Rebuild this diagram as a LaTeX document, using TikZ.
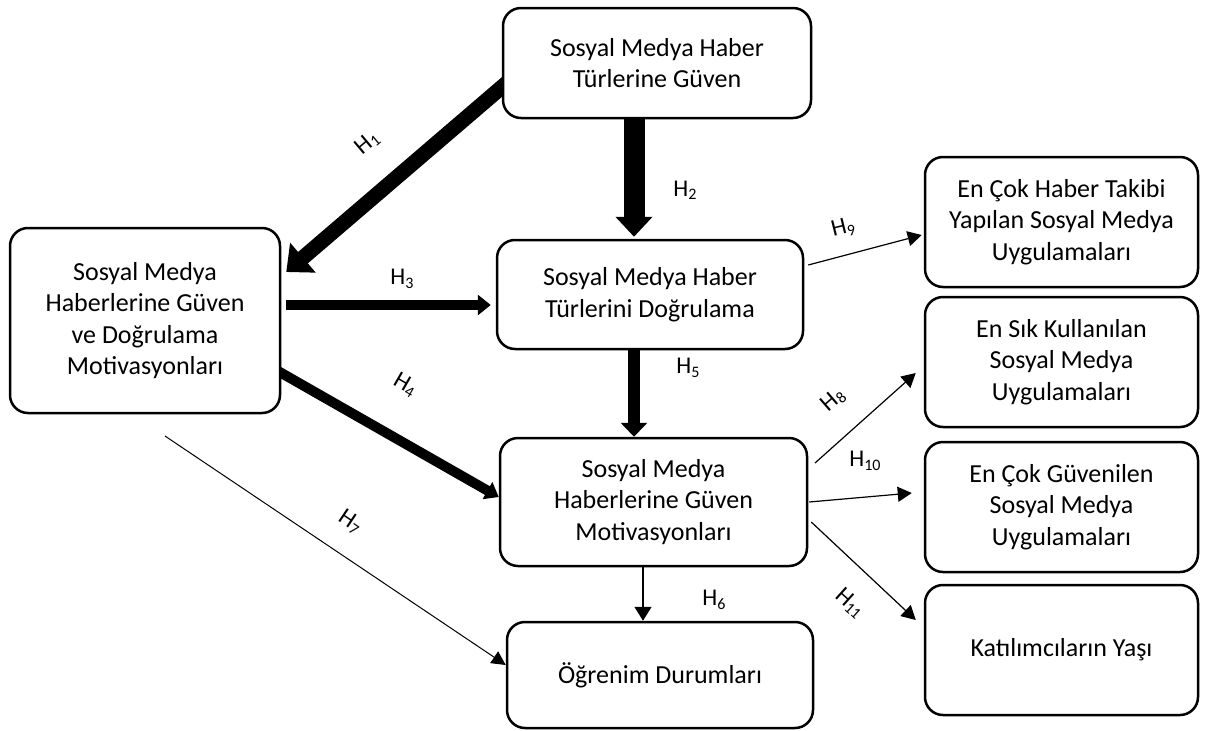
\documentclass[tikz,border=0pt]{standalone}
\usepackage{fontspec}
\setmainfont{Carlito}
\usetikzlibrary{arrows.meta,calc,backgrounds}
\newcommand\boxfont{\fontsize{26}{31.5}\selectfont}
\newcommand\lblfont{\fontsize{24}{28}\selectfont}
\newcommand\Hsub[1]{H\raisebox{-0.14em}{\fontsize{16}{16}\selectfont #1}}
\begin{document}
\begin{tikzpicture}[x=1pt,y=-1pt,
  box/.style={draw, line width=2.5pt, rounded corners=18pt, fill=white,
    align=center, inner sep=0pt, font=\boxfont, minimum width=#1},
  box/.default=306pt,
  lbl/.style={font=\lblfont, inner sep=0pt},
  thin/.style={line width=1.2pt, -{Triangle[length=14pt,width=15pt]}},
]
\useasboundingbox (0,0) rectangle (1205,731);

\node[box=308pt, minimum height=110pt] (A) at (657,63) {Sosyal Medya Haber\\Türlerine Güven};
\node[box=270pt, minimum height=185pt] (B) at (145,320.5) {Sosyal Medya\\Haberlerine Güven\\ve Doğrulama\\Motivasyonları};
\node[box=306pt, minimum height=109pt] (C) at (650,294.5) {Sosyal Medya Haber\\Türlerini Doğrulama};
\node[box=307pt, minimum height=128pt] (D) at (653.5,502) {Sosyal Medya\\Haberlerine Güven\\Motivasyonları};
\node[box=306pt, minimum height=106pt] (E) at (660,675) {Öğrenim Durumları};
\node[box=273pt, minimum height=130pt] (R1) at (1061.5,222) {En Çok Haber Takibi\\Yapılan Sosyal Medya\\Uygulamaları};
\node[box=273pt, minimum height=130pt] (R2) at (1061.5,362) {En Sık Kullanılan\\Sosyal Medya\\Uygulamaları};
\node[box=273pt, minimum height=130pt] (R3) at (1061.5,507) {En Çok Güvenilen\\Sosyal Medya\\Uygulamaları};
\node[box=273pt, minimum height=130pt] (R4) at (1061.5,650) {Katılımcıların Yaşı};

\coordinate (h7s) at (165,436);
\coordinate (h8s) at (815,463);

\begin{scope}[on background layer]
\draw[line width=15pt, -{Triangle[length=22pt,width=38pt]}] ($(A.west)+(6,19)$) -- ($(B.east)+(5,-48.5)$);
\draw[line width=21pt, -{Triangle[length=20pt,width=36pt]}] ($(A.south)+(-23,-5)$) -- ($(C.north)+(-16,-2)$);
\draw[line width=10pt, -{Triangle[length=13pt,width=20pt]}] ($(B.east)+(5,-15.5)$) -- ($(C.west)+(-5,10.5)$);
\draw[line width=10pt, -{Triangle[length=13pt,width=19pt]}] ($(B.east)+(-6,49)$) -- ($(D.west)+(0,-5)$);
\draw[line width=12pt, -{Triangle[length=14pt,width=26pt]}] ($(C.south)+(-16,0)$) -- ($(D.north)+(-19.5,0)$);
\draw[line width=1.5pt, -{Triangle[length=14pt,width=17pt]}] ($(D.south)+(-10.5,0)$) -- ($(E.north)+(-17,0)$);
\end{scope}
\draw[line width=1pt, -{Triangle[length=14pt,width=14pt]}] (h7s) -- ($(E.west)+(0,-10)$);
\draw[thin] (h8s) -- ($(R2.west)+(-8,11)$);
\draw[thin] ($(C.east)+(4,-29.5)$) -- ($(R1.west)+(-2,13)$);
\draw[thin] ($(D.east)+(1,0)$) -- ($(R3.west)+(-12,-14)$);
\draw[thin] ($(D.east)+(3,20)$) -- ($(R4.west)+(-8,-30)$);

\node[lbl, rotate=40] (l1) at (367,143) {\Hsub{1}};
\node[lbl] (l2) at (685,190) {\Hsub{2}};
\node[lbl] (l3) at (402,279) {\Hsub{3}};
\node[lbl, rotate=-30] (l4) at (405,385) {\Hsub{4}};
\node[lbl] (l5) at (688,368) {\Hsub{5}};
\node[lbl] (l6) at (714,600) {\Hsub{6}};
\node[lbl, rotate=-34] (l7) at (350,522) {\Hsub{7}};
\node[lbl, rotate=41] (l8) at (833,400) {\Hsub{8}};
\node[lbl, rotate=14] (l9) at (843,228) {\Hsub{9}};
\node[lbl] (l10) at (865,461) {\Hsub{10}};
\node[lbl, rotate=-42] (l11) at (850,603) {\Hsub{11}};
\end{tikzpicture}
\end{document}
